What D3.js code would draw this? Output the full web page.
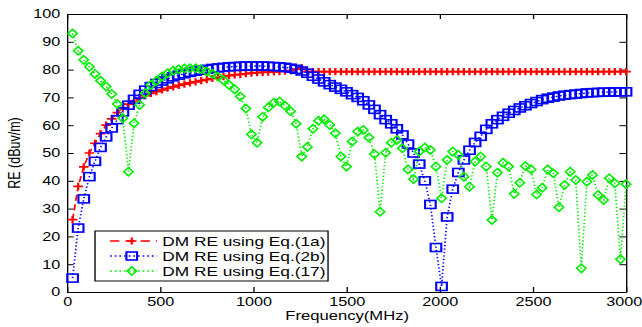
<!DOCTYPE html>
<html>
<head>
<meta charset="utf-8">
<script src="https://cdn.jsdelivr.net/npm/d3@7"></script>
<style>
  body { margin: 0; background: #fff; }
  svg { display: block; }
  text { font-family: "Liberation Sans", Arial, sans-serif; fill: #000; }
</style>
</head>
<body>
<svg id="chart"></svg>
<script>
// frequency sweep (MHz)
const freq = [
  30, 60, 90, 120, 150, 180, 210, 240, 270, 300,
  330, 360, 390, 420, 450, 480, 510, 540, 570, 600,
  630, 660, 690, 720, 750, 780, 810, 840, 870, 900,
  930, 960, 990, 1020, 1050, 1080, 1110, 1140, 1170, 1200,
  1230, 1260, 1290, 1320, 1350, 1380, 1410, 1440, 1470, 1500,
  1530, 1560, 1590, 1620, 1650, 1680, 1710, 1740, 1770, 1800,
  1830, 1860, 1890, 1920, 1950, 1980, 2010, 2040, 2070, 2100,
  2130, 2160, 2190, 2220, 2250, 2280, 2310, 2340, 2370, 2400,
  2430, 2460, 2490, 2520, 2550, 2580, 2610, 2640, 2670, 2700,
  2730, 2760, 2790, 2820, 2850, 2880, 2910, 2940, 2970, 3000
]

// DM RE using Eq.(1a)
const reEq1a = [
  26, 38, 45, 50, 53.5, 57, 60, 62.3, 64.5, 66.3,
  67.6, 68.7, 69.7, 70.6, 71.4, 72.1, 72.7, 73.3, 73.8, 74.3,
  74.8, 75.2, 75.6, 76, 76.4, 76.8, 77.2, 77.5, 77.8, 78.1,
  78.3, 78.5, 78.7, 78.9, 79, 79.1, 79.2, 79.3, 79.4, 79.6,
  80.2, 80.6, 79.3, 79.3, 79.3, 79.3, 79.3, 79.3, 79.3, 79.3,
  79.3, 79.3, 79.3, 79.3, 79.3, 79.3, 79.3, 79.3, 79.3, 79.3,
  79.3, 79.3, 79.3, 79.3, 79.3, 79.3, 79.3, 79.3, 79.3, 79.3,
  79.3, 79.3, 79.3, 79.3, 79.3, 79.3, 79.3, 79.3, 79.3, 79.3,
  79.3, 79.3, 79.3, 79.3, 79.3, 79.3, 79.3, 79.3, 79.3, 79.3,
  79.3, 79.3, 79.3, 79.3, 79.3, 79.3, 79.3, 79.3, 79.3, 79.3
]

// DM RE using Eq.(2b)
const reEq2b = [
  5, 23, 33.5, 41.5, 47, 52, 55.8, 59, 62, 64.8,
  67.2, 69.3, 71.1, 72.6, 73.9, 75, 75.9, 76.7, 77.4, 78,
  78.5, 79, 79.4, 79.8, 80.1, 80.4, 80.6, 80.8, 81, 81.1,
  81.2, 81.3, 81.3, 81.3, 81.3, 81.2, 81.1, 81, 80.8, 80.5,
  80.1, 79.5, 78.7, 77.6, 76.6, 75.6, 74.6, 73.7, 72.9, 72,
  71, 70, 68.8, 67.3, 65.7, 63.8, 62, 60.5, 58.7, 56.5,
  53.2, 50, 46, 40, 31.5, 16, 2, 27, 37, 43,
  47.5, 51, 53.8, 56, 58.5, 60.5, 62, 63.2, 64.3, 65.3,
  66.2, 67, 67.8, 68.5, 69.2, 69.7, 70.1, 70.5, 70.8, 71,
  71.2, 71.4, 71.6, 71.7, 71.8, 71.9, 71.9, 72, 72, 72
]

// DM RE using Eq.(17)
const reEq17 = [
  93, 86.8, 83.5, 81, 78.4, 76, 73.9, 71.2, 67.6, 62.5,
  43.3, 60.7, 67.3, 71.5, 74.5, 76, 77.5, 78.7, 79.6, 80.1,
  80.4, 80.5, 80.5, 80.1, 79.3, 78.5, 77.5, 76.2, 74.5, 72.9,
  70.3, 66, 56.7, 53.7, 63, 66.4, 68.1, 68.5, 67, 65,
  60.5, 48.7, 52.2, 58.7, 61.6, 62.1, 60.1, 57.1, 48.7, 45.1,
  54.1, 57.7, 58.3, 55.6, 49.6, 28.9, 50.1, 53.7, 54.7, 51.7,
  44.1, 40.6, 50.5, 52, 51.1, 45.1, 33.7, 47.5, 50.5, 49.3,
  41.5, 37.9, 46.9, 48.7, 45.1, 25.9, 42.9, 46.5, 45.1, 35.3,
  39.3, 45.3, 44.1, 35.1, 37.5, 44.1, 42.7, 30.5, 38.5, 43.3,
  40.3, 8.5, 39.7, 42.1, 34.9, 33.1, 40.9, 39.1, 11.8, 38.8
]

const xTicks = [0, 500, 1000, 1500, 2000, 2500, 3000]
const yTicks = [0, 10, 20, 30, 40, 50, 60, 70, 80, 90, 100]
const seriesNames = ['DM RE using Eq.(1a)', 'DM RE using Eq.(2b)', 'DM RE using Eq.(17)']

// the picture is stretched sideways, so draw in a narrower box and let the viewBox stretch it
let vbW = 483, vbH = 327
let svg = d3.select('#chart')
            .attr('width', 642)
            .attr('height', 327)
            .attr('viewBox', `0 0 ${vbW} ${vbH}`)
            .attr('preserveAspectRatio', 'none')

let mLeft = 50.4, mRight = 471, mTop = 14, mBottom = 292

let x = d3.scaleLinear().domain([0, 3000]).range([mLeft, mRight])
let y = d3.scaleLinear().domain([0, 100]).range([mBottom, mTop])

function styleAxis(g) {
  g.selectAll('path.domain').attr('stroke', '#000').attr('stroke-width', 1)
  g.selectAll('.tick line').attr('stroke', '#000').attr('stroke-width', 1)
  g.selectAll('text').style('font-size', '12.2px').attr('fill', '#000')
  g.attr('font-family', null)
}

svg.append('g')
   .attr('transform', `translate(0,${mBottom})`)
   .call(d3.axisBottom(x).tickValues(xTicks).tickFormat(d3.format('d')).tickSizeInner(-5).tickSizeOuter(0).tickPadding(5))
   .call(styleAxis)
   .selectAll('.tick text')
   .filter(d => d == 3000)
   .attr('dx', -1.8)
svg.append('g')
   .attr('transform', `translate(0,${mTop})`)
   .call(d3.axisTop(x).tickValues(xTicks).tickSizeInner(-5).tickSizeOuter(0).tickFormat(''))
   .call(styleAxis)
svg.append('g')
   .attr('transform', `translate(${mLeft},0)`)
   .call(d3.axisLeft(y).tickValues(yTicks).tickSizeInner(-5).tickSizeOuter(0).tickPadding(5))
   .call(styleAxis)
svg.append('g')
   .attr('transform', `translate(${mRight},0)`)
   .call(d3.axisRight(y).tickValues(yTicks).tickSizeInner(-5).tickSizeOuter(0).tickFormat(''))
   .call(styleAxis)

// axis titles
svg.append('text')
   .attr('x', (mLeft + mRight) / 2 + 0.5)
   .attr('y', 320)
   .attr('text-anchor', 'middle')
   .style('font-size', '12.5px')
   .text('Frequency(MHz)')
svg.append('text')
   .attr('transform', `translate(15,153) rotate(-90)`)
   .attr('text-anchor', 'middle')
   .style('font-size', '12.5px')
   .text('RE (dBuv/m)')

// markers
let plusPath = 'M-3.6,0H3.6M0,-3.6V3.6'
let diamondPath = 'M0,-4.2L3.5,0L0,4.2L-3.5,0Z'

let series = [
  {name: seriesNames[0], values: reEq1a, color: '#ff0000', dash: '6,3.5', width: 1.3, marker: 'plus'},
  {name: seriesNames[1], values: reEq2b, color: '#0000ff', dash: '1.3,2.2', width: 1.3, marker: 'square'},
  {name: seriesNames[2], values: reEq17, color: '#00ee00', dash: '1.3,2.2', width: 1.3, marker: 'diamond'}
]

function drawMarker(g, type, color) {
  if (type == 'plus') {
    g.append('path').attr('d', plusPath).attr('stroke', color).attr('stroke-width', 1.7).attr('fill', 'none')
  } else if (type == 'square') {
    g.append('rect').attr('x', -4).attr('y', -4).attr('width', 8).attr('height', 8)
     .attr('stroke', color).attr('stroke-width', 1.6).attr('fill', 'none')
  } else {
    g.append('path').attr('d', diamondPath).attr('stroke', color).attr('stroke-width', 1.4).attr('fill', 'none')
  }
}

let line = d3.line().x(d => x(d[0])).y(d => y(d[1]))

series.forEach(s => {
  let pts = freq.map((f, i) => [f, s.values[i]])
  let g = svg.append('g')
  g.append('path')
   .attr('d', line(pts))
   .attr('fill', 'none')
   .attr('stroke', s.color)
   .attr('stroke-width', s.width)
   .attr('stroke-dasharray', s.dash)
  g.selectAll('g.mk')
   .data(pts)
   .enter()
   .append('g')
   .attr('class', 'mk')
   .attr('transform', d => `translate(${x(d[0])},${y(d[1])})`)
   .each(function(d) {
     drawMarker(d3.select(this), s.marker, s.color)
   })
})

// legend
let lg = svg.append('g')
lg.append('rect')
  .attr('x', 71.5).attr('y', 231).attr('width', 175.3).attr('height', 50)
  .attr('fill', '#fff').attr('stroke', '#000').attr('stroke-width', 1)
let legY = [241, 256, 271]
series.forEach((s, i) => {
  lg.append('line')
    .attr('x1', 82.8).attr('x2', 118.1).attr('y1', legY[i]).attr('y2', legY[i])
    .attr('stroke', s.color).attr('stroke-width', s.width)
    .attr('stroke-dasharray', s.marker == 'plus' ? '7,4.5' : s.dash)
  let m = lg.append('g').attr('transform', `translate(99.1,${legY[i]})`)
  drawMarker(m, s.marker, s.color)
  lg.append('text')
    .attr('x', 122.1).attr('y', legY[i]).attr('dy', '0.36em')
    .style('font-size', '13px')
    .text(s.name)
})
</script>
</body>
</html>
